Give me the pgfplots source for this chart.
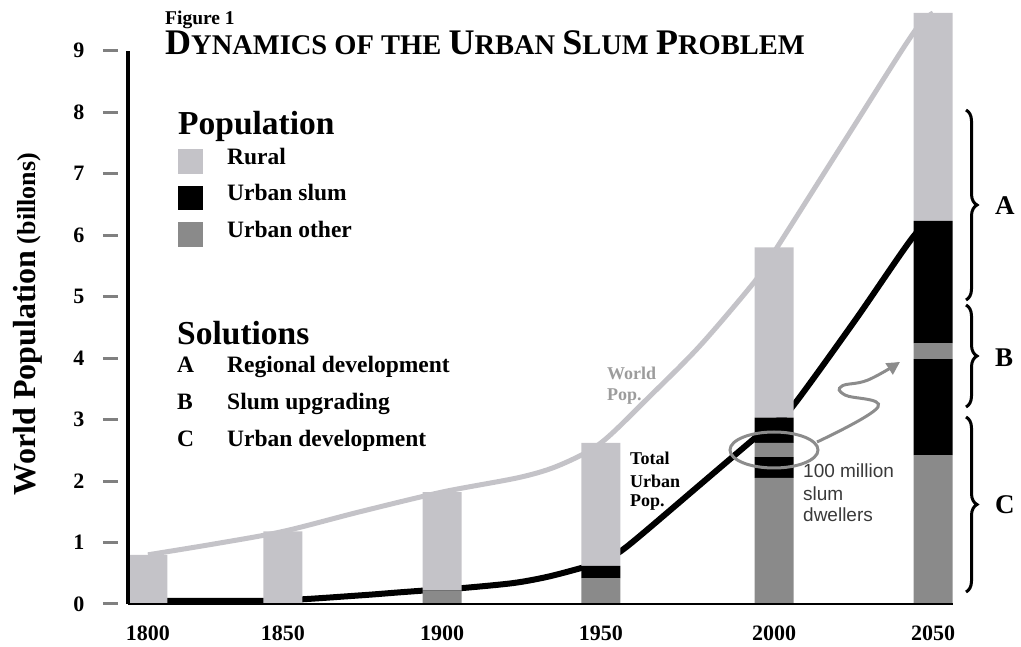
\documentclass[border=0pt]{standalone}
\usepackage{pgfplots}
\pgfplotsset{compat=1.18}
\usepackage{pgfplotstable}
\usepackage{fontspec}
\setmainfont{Liberation Serif}
\newfontfamily\arial{Liberation Sans}
\usetikzlibrary{decorations.pathreplacing,arrows.meta}
\definecolor{rural}{HTML}{C4C3C8}
\definecolor{uother}{HTML}{8A8A8A}
\definecolor{annot}{HTML}{8C8C8C}
\definecolor{worldtxt}{HTML}{9C9C9C}
\definecolor{dwell}{HTML}{3A3A3A}
\newcommand{\fs}[1]{\fontsize{#1}{#1}\selectfont}
\newcommand{\SC}[2]{{\fs{36}#1}{\fs{28.5}#2}}

% bar positions: 1800,1850,1900,1950,2000,2050 (as spaced in the figure)
\pgfplotstableread{
pos    year other1 slum1 other2 slum2 rural
0      1800 0      0     0      0     0.80
0.86   1850 0      0     0      0     1.18
1.873  1900 0.22   0     0      0     1.60
2.885  1950 0.42   0.20  0      0     2.00
3.987  2000 2.05   0.34  0.23   0.41  2.77
5      2050 2.42   1.56  0.26   1.99  3.38
}\bars

\pgfplotstableread{
pos   world
0     0.80
0.43  0.98
0.86  1.18
1.35  1.50
1.873 1.82
2.369 2.06
2.624 2.26
2.885 2.62
3.197 3.38
3.516 4.20
3.866 5.25
3.987 5.72
4.471 7.67
4.873 9.28
5     9.61
}\world

\pgfplotstableread{
pos   urban
0     0.05
0.43  0.05
0.86  0.06
1.35  0.14
1.605 0.19
1.873 0.24
2.006 0.26
2.325 0.34
2.541 0.44
2.752 0.58
2.885 0.68
3.006 0.85
3.153 1.15
3.516 1.94
3.866 2.70
3.987 2.95
4.102 3.20
4.50  4.60
4.873 5.97
5     6.23
}\urban

\pgfplotsset{base/.style={at={(128pt,42pt)}, anchor=south west, scale only axis,
  width=825pt, height=553.5pt, xmin=-0.127, xmax=5.127, ymin=0, ymax=9, clip=false}}

\begin{document}
\begin{tikzpicture}[x=1pt,y=1pt]
\useasboundingbox (0,0) rectangle (1021,646);

\begin{axis}[base, hide axis]
\addplot[draw=rural, line width=5pt, smooth, tension=0.5] table[x=pos, y=world] {\world};
\addplot[draw=black, line width=6pt, smooth, tension=0.5] table[x=pos, y=urban] {\urban};
\end{axis}

\begin{axis}[base, ybar stacked, bar width=39pt, axis on top,
  axis x line*=bottom, axis y line*=left,
  x axis line style={line width=2pt},
  y axis line style={line width=4.5pt},
  xtick={0,0.86,1.873,2.885,3.987,5},
  xticklabels={1800,1850,1900,1950,2000,2050},
  xtick style={draw=none},
  ytick={0,1,...,9},
  ytick style={line width=3pt, xshift=-10pt},
  tick align=outside, major tick length=15pt,
  xticklabel style={font=\fs{22}\bfseries, yshift=-3pt},
  yticklabel style={font=\fs{22}\bfseries, xshift=-25pt},
  /pgf/number format/assume math mode=true,
]
\addplot[fill=uother, draw=none] table[x=pos, y=other1] {\bars};
\addplot[fill=black, draw=none] table[x=pos, y=slum1] {\bars};
\addplot[fill=uother, draw=none] table[x=pos, y=other2] {\bars};
\addplot[fill=black, draw=none] table[x=pos, y=slum2] {\bars};
\addplot[fill=rural, draw=none] table[x=pos, y=rural] {\bars};
\end{axis}

% titles
\node[anchor=base west, inner sep=0, font=\fs{19.5}\bfseries] at (165,621) {Figure 1};
\node[anchor=base west, inner sep=0, font=\fs{28.5}\bfseries] at (165,591)
  {\SC{D}{YNAMICS} \SC{}{OF THE} \SC{U}{RBAN} \SC{S}{LUM} \SC{P}{ROBLEM}};

% y label
\node[rotate=90, inner sep=0, font=\fs{26}\bfseries] at (28,322) {{\fs{32}World Population} (billons)};

% legend
\node[anchor=base west, inner sep=0, font=\fs{33.5}\bfseries] at (178,511) {Population};
\fill[rural] (178,472) rectangle (203,497);
\fill[black] (178,436) rectangle (203,460);
\fill[uother] (178,399) rectangle (203,424);
\node[anchor=base west, inner sep=0, font=\fs{23.5}\bfseries] at (227,481) {Rural};
\node[anchor=base west, inner sep=0, font=\fs{23.5}\bfseries] at (227,445) {Urban slum};
\node[anchor=base west, inner sep=0, font=\fs{23.5}\bfseries] at (227,408) {Urban other};

\node[anchor=base west, inner sep=0, font=\fs{33.5}\bfseries] at (177,301) {Solutions};
\node[anchor=base west, inner sep=0, font=\fs{23.5}\bfseries] at (177,273) {A};
\node[anchor=base west, inner sep=0, font=\fs{23.5}\bfseries] at (227,273) {Regional development};
\node[anchor=base west, inner sep=0, font=\fs{23.5}\bfseries] at (177,236) {B};
\node[anchor=base west, inner sep=0, font=\fs{23.5}\bfseries] at (227,236) {Slum upgrading};
\node[anchor=base west, inner sep=0, font=\fs{23.5}\bfseries] at (177,199) {C};
\node[anchor=base west, inner sep=0, font=\fs{23.5}\bfseries] at (227,199) {Urban development};

% curve annotations
\node[anchor=base west, inner sep=0, font=\fs{18}\bfseries, text=worldtxt] at (607,266) {World};
\node[anchor=base west, inner sep=0, font=\fs{18}\bfseries, text=worldtxt] at (607,245) {Pop.};
\node[anchor=base west, inner sep=0, font=\fs{18}\bfseries] at (630,181) {Total};
\node[anchor=base west, inner sep=0, font=\fs{18}\bfseries] at (630,158) {Urban};
\node[anchor=base west, inner sep=0, font=\fs{18}\bfseries] at (630,139) {Pop.};
\node[anchor=base west, inner sep=0, font=\arial\fs{19}, text=dwell] at (803,168) {100 million};
\node[anchor=base west, inner sep=0, font=\arial\fs{19}, text=dwell] at (803,145) {slum};
\node[anchor=base west, inner sep=0, font=\arial\fs{19}, text=dwell] at (803,124) {dwellers};

% ellipse and squiggle arrow
\draw[annot, line width=3pt] (774,196) ellipse [x radius=44pt, y radius=18pt];
\draw[annot, line width=3pt, -{Triangle[length=13pt,width=13pt]}] plot[smooth, tension=0.7]
  coordinates {(817,204) (878,239) (845,251) (842,260) (868,266) (900,284)};

% braces
\draw[line width=3pt, decorate, decoration={brace, amplitude=11pt}] (966,536) -- (966,346);
\draw[line width=3pt, decorate, decoration={brace, amplitude=11pt}] (966,341) -- (966,239);
\draw[line width=3pt, decorate, decoration={brace, amplitude=11pt}] (966,229) -- (966,54);
\node[anchor=base west, inner sep=0, font=\fs{27}\bfseries] at (995,431) {A};
\node[anchor=base west, inner sep=0, font=\fs{27}\bfseries] at (995,279) {B};
\node[anchor=base west, inner sep=0, font=\fs{27}\bfseries] at (995,132) {C};
\end{tikzpicture}
\end{document}
